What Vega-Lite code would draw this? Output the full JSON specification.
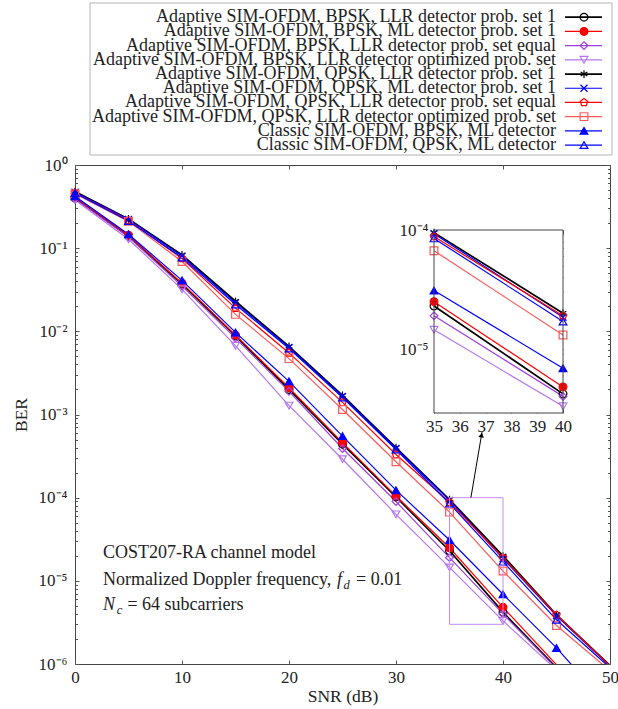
{
  "$schema": "https://vega.github.io/schema/vega-lite/v6.json",
  "autosize": {"type": "none"},
  "padding": {"left": 75, "top": 165, "right": 8, "bottom": 45},
  "width": 535,
  "height": 499,
  "background": "white",
  "config": {
    "view": {"stroke": "#444444", "strokeWidth": 1},
    "legend": {"disable": true},
    "font": "Liberation Serif",
    "text": {"font": "Liberation Serif", "fontSize": 18, "color": "#222222"},
    "axis": {
      "labelFont": "Liberation Serif",
      "titleFont": "Liberation Serif",
      "labelFontSize": 17,
      "titleFontSize": 17.5,
      "labelColor": "#222222",
      "titleColor": "#222222",
      "titleFontWeight": "normal",
      "grid": false,
      "domain": false,
      "tickColor": "#555555",
      "tickWidth": 1,
      "labelOverlap": false,
      "labelBound": false
    }
  },
  "datasets": {
    "series": [
      {"k": 1, "name": "Adaptive SIM-OFDM, BPSK, LLR detector prob. set 1"},
      {"k": 2, "name": "Adaptive SIM-OFDM, BPSK, ML detector prob. set 1"},
      {"k": 3, "name": "Adaptive SIM-OFDM, BPSK, LLR detector prob. set equal"},
      {"k": 4, "name": "Adaptive SIM-OFDM, BPSK, LLR detector optimized prob. set"},
      {"k": 5, "name": "Adaptive SIM-OFDM, QPSK, LLR detector prob. set 1"},
      {"k": 6, "name": "Adaptive SIM-OFDM, QPSK, ML detector prob. set 1"},
      {"k": 7, "name": "Adaptive SIM-OFDM, QPSK, LLR detector prob. set equal"},
      {"k": 8, "name": "Adaptive SIM-OFDM, QPSK, LLR detector optimized prob. set"},
      {"k": 9, "name": "Classic SIM-OFDM, BPSK, ML detector"},
      {"k": 10, "name": "Classic SIM-OFDM, QPSK, ML detector"}
    ],
    "ber": [
      {"k":1,"snr":0,"ber":0.40},{"k":1,"snr":5,"ber":0.140},{"k":1,"snr":10,"ber":0.037},{"k":1,"snr":15,"ber":0.0088},{"k":1,"snr":20,"ber":0.0020},{"k":1,"snr":25,"ber":4.4e-4},{"k":1,"snr":30,"ber":1.02e-4},{"k":1,"snr":35,"ber":2.3e-5},{"k":1,"snr":40,"ber":4.2e-6},{"k":1,"snr":45,"ber":9.0e-7},{"k":1,"snr":50,"ber":2.0e-7},
      {"k":2,"snr":0,"ber":0.41},{"k":2,"snr":5,"ber":0.143},{"k":2,"snr":10,"ber":0.038},{"k":2,"snr":15,"ber":0.0090},{"k":2,"snr":20,"ber":0.0021},{"k":2,"snr":25,"ber":4.6e-4},{"k":2,"snr":30,"ber":1.05e-4},{"k":2,"snr":35,"ber":2.5e-5},{"k":2,"snr":40,"ber":4.8e-6},{"k":2,"snr":45,"ber":9.8e-7},{"k":2,"snr":50,"ber":2.2e-7},
      {"k":3,"snr":0,"ber":0.39},{"k":3,"snr":5,"ber":0.136},{"k":3,"snr":10,"ber":0.035},{"k":3,"snr":15,"ber":0.0083},{"k":3,"snr":20,"ber":0.0019},{"k":3,"snr":25,"ber":3.9e-4},{"k":3,"snr":30,"ber":9.0e-5},{"k":3,"snr":35,"ber":1.9e-5},{"k":3,"snr":40,"ber":4.0e-6},{"k":3,"snr":45,"ber":8.8e-7},{"k":3,"snr":50,"ber":1.8e-7},
      {"k":4,"snr":0,"ber":0.38},{"k":4,"snr":5,"ber":0.128},{"k":4,"snr":10,"ber":0.032},{"k":4,"snr":15,"ber":0.0067},{"k":4,"snr":20,"ber":0.00128},{"k":4,"snr":25,"ber":2.9e-4},{"k":4,"snr":30,"ber":6.3e-5},{"k":4,"snr":35,"ber":1.45e-5},{"k":4,"snr":40,"ber":3.3e-6},{"k":4,"snr":45,"ber":8.5e-7},{"k":4,"snr":50,"ber":1.6e-7},
      {"k":5,"snr":0,"ber":0.48},{"k":5,"snr":5,"ber":0.225},{"k":5,"snr":10,"ber":0.083},{"k":5,"snr":15,"ber":0.023},{"k":5,"snr":20,"ber":0.0066},{"k":5,"snr":25,"ber":0.0017},{"k":5,"snr":30,"ber":4.0e-4},{"k":5,"snr":35,"ber":9.5e-5},{"k":5,"snr":40,"ber":2.0e-5},{"k":5,"snr":45,"ber":3.9e-6},{"k":5,"snr":50,"ber":9.6e-7},
      {"k":6,"snr":0,"ber":0.47},{"k":6,"snr":5,"ber":0.222},{"k":6,"snr":10,"ber":0.080},{"k":6,"snr":15,"ber":0.022},{"k":6,"snr":20,"ber":0.0064},{"k":6,"snr":25,"ber":0.00165},{"k":6,"snr":30,"ber":3.9e-4},{"k":6,"snr":35,"ber":9.3e-5},{"k":6,"snr":40,"ber":1.85e-5},{"k":6,"snr":45,"ber":3.8e-6},{"k":6,"snr":50,"ber":9.4e-7},
      {"k":7,"snr":0,"ber":0.46},{"k":7,"snr":5,"ber":0.216},{"k":7,"snr":10,"ber":0.075},{"k":7,"snr":15,"ber":0.019},{"k":7,"snr":20,"ber":0.0055},{"k":7,"snr":25,"ber":0.0014},{"k":7,"snr":30,"ber":3.3e-4},{"k":7,"snr":35,"ber":8.8e-5},{"k":7,"snr":40,"ber":1.9e-5},{"k":7,"snr":45,"ber":3.9e-6},{"k":7,"snr":50,"ber":9.5e-7},
      {"k":8,"snr":0,"ber":0.45},{"k":8,"snr":5,"ber":0.21},{"k":8,"snr":10,"ber":0.069},{"k":8,"snr":15,"ber":0.016},{"k":8,"snr":20,"ber":0.0047},{"k":8,"snr":25,"ber":0.00115},{"k":8,"snr":30,"ber":2.7e-4},{"k":8,"snr":35,"ber":6.7e-5},{"k":8,"snr":40,"ber":1.31e-5},{"k":8,"snr":45,"ber":2.9e-6},{"k":8,"snr":50,"ber":8.3e-7},
      {"k":9,"snr":0,"ber":0.42},{"k":9,"snr":5,"ber":0.147},{"k":9,"snr":10,"ber":0.041},{"k":9,"snr":15,"ber":0.0097},{"k":9,"snr":20,"ber":0.0025},{"k":9,"snr":25,"ber":5.5e-4},{"k":9,"snr":30,"ber":1.23e-4},{"k":9,"snr":35,"ber":3.1e-5},{"k":9,"snr":40,"ber":6.9e-6},{"k":9,"snr":45,"ber":1.56e-6},{"k":9,"snr":50,"ber":3.0e-7},
      {"k":10,"snr":0,"ber":0.46},{"k":10,"snr":5,"ber":0.212},{"k":10,"snr":10,"ber":0.077},{"k":10,"snr":15,"ber":0.021},{"k":10,"snr":20,"ber":0.0062},{"k":10,"snr":25,"ber":0.0016},{"k":10,"snr":30,"ber":3.8e-4},{"k":10,"snr":35,"ber":8.5e-5},{"k":10,"snr":40,"ber":1.7e-5},{"k":10,"snr":45,"ber":3.4e-6},{"k":10,"snr":50,"ber":9.0e-7}
    ]
  },
  "layer": [
    {
      "layer": [
        {
          "data": {"name": "ber"},
          "transform": [{"filter": "datum.k == 1 || datum.k == 5"}],
          "mark": {"type": "line", "clip": true, "strokeWidth": 1.7},
          "encoding": {
            "x": {"field": "snr", "type": "quantitative", "scale": {"domain": [0, 50], "nice": false, "zero": false},
                  "axis": {"orient": "bottom", "values": [0, 10, 20, 30, 40, 50], "ticks": false, "labelPadding": 5, "labelFlush": false, "title": "SNR (dB)", "titlePadding": 2}},
            "y": {"field": "ber", "type": "quantitative", "scale": {"type": "log", "domain": [1e-6, 1], "nice": false},
                  "axis": {"orient": "left", "values": [1e-6, 1e-5, 1e-4, 1e-3, 1e-2, 1e-1, 1], "ticks": false, "labelPadding": 8,
                           "labelExpr": "datum.value >= 0.99 ? '10⁰' : '10⁻' + ['','¹','²','³','⁴','⁵','⁶'][round(-log(datum.value)/LN10)]",
                           "title": "BER", "titlePadding": 8}},
            "stroke": {"field": "k", "type": "nominal", "scale": {"domain": [1,2,3,4,5,6,7,8,9,10], "range": ["#000000","#ff0000","#9e3fe0","#b676f2","#000000","#0000ff","#ff0000","#ff5a5a","#0000ff","#0000ff"]}, "legend": null}
          }
        },
        {
          "data": {"name": "ber"},
          "transform": [{"filter": "datum.k != 1 && datum.k != 5"}],
          "mark": {"type": "line", "clip": true, "strokeWidth": 1.2},
          "encoding": {
            "x": {"field": "snr", "type": "quantitative", "axis": {"orient": "bottom", "values": [0, 10, 20, 30, 40, 50], "labels": false, "ticks": true, "tickSize": -4, "title": null}},
            "y": {"field": "ber", "type": "quantitative", "axis": {"orient": "left", "values": [1e-6, 1e-5, 1e-4, 1e-3, 1e-2, 1e-1, 1], "labels": false, "ticks": true, "tickSize": -4, "title": null}},
            "stroke": {"field": "k", "type": "nominal", "scale": {"domain": [1,2,3,4,5,6,7,8,9,10], "range": ["#000000","#ff0000","#9e3fe0","#b676f2","#000000","#0000ff","#ff0000","#ff5a5a","#0000ff","#0000ff"]}, "legend": null}
          }
        },
        {
          "data": {"name": "ber"},
          "transform": [{"filter": "datum.ber >= 1e-6"}],
          "mark": {"type": "point", "filled": true, "opacity": 1, "size": 60, "strokeWidth": 1.2},
          "encoding": {
            "x": {"field": "snr", "type": "quantitative", "axis": {"orient": "top", "values": [0, 10, 20, 30, 40, 50], "labels": false, "ticks": true, "tickSize": -4, "title": null}},
            "y": {"field": "ber", "type": "quantitative", "axis": {"orient": "right", "values": [1e-6, 1e-5, 1e-4, 1e-3, 1e-2, 1e-1, 1], "labels": false, "ticks": true, "tickSize": -4, "title": null}},
            "shape": {"field": "k", "type": "nominal", "scale": {"domain": [1,2,3,4,5,6,7,8,9,10], "range": ["circle","circle","diamond","triangle-down","M0,-1L0,1M-0.866,-0.5L0.866,0.5M-0.866,0.5L0.866,-0.5","M-0.9,-0.9L0.9,0.9M-0.9,0.9L0.9,-0.9","M0,-1L0.951,-0.309L0.588,0.809L-0.588,0.809L-0.951,-0.309Z","square","triangle-up","triangle-up"]}, "legend": null},
            "fill": {"field": "k", "type": "nominal", "scale": {"domain": [1,2,3,4,5,6,7,8,9,10], "range": ["transparent","#ff0000","transparent","transparent","transparent","transparent","transparent","transparent","#0000ff","transparent"]}, "legend": null},
            "stroke": {"field": "k", "type": "nominal", "scale": {"domain": [1,2,3,4,5,6,7,8,9,10], "range": ["#000000","#ff0000","#9e3fe0","#b676f2","#000000","#0000ff","#ff0000","#ff5a5a","#0000ff","#0000ff"]}, "legend": null}
          }
        },
        {
          "data": {"values": [{"x1": 35, "x2": 40, "y1": 3e-6, "y2": 1e-4}]},
          "mark": {"type": "rect", "fill": "transparent", "stroke": "#c58ef0", "strokeWidth": 1},
          "encoding": {
            "x": {"field": "x1", "type": "quantitative", "axis": null},
            "x2": {"field": "x2"},
            "y": {"field": "y1", "type": "quantitative", "axis": {"orient": "left", "values": [2e-6,3e-6,4e-6,5e-6,6e-6,7e-6,8e-6,9e-6,2e-5,3e-5,4e-5,5e-5,6e-5,7e-5,8e-5,9e-5,2e-4,3e-4,4e-4,5e-4,6e-4,7e-4,8e-4,9e-4,2e-3,3e-3,4e-3,5e-3,6e-3,7e-3,8e-3,9e-3,0.02,0.03,0.04,0.05,0.06,0.07,0.08,0.09,0.2,0.3,0.4,0.5,0.6,0.7,0.8,0.9], "labels": false, "ticks": true, "tickSize": -2.5, "title": null}},
            "y2": {"field": "y2"}
          }
        },
        {
          "data": {"values": [{"x": 37.0, "y": 1.0e-4}, {"x": 38.04, "y": 6.16e-4}]},
          "mark": {"type": "line", "stroke": "#000000", "strokeWidth": 1},
          "encoding": {
            "x": {"field": "x", "type": "quantitative", "axis": null},
            "y": {"field": "y", "type": "quantitative", "axis": {"orient": "right", "values": [2e-6,3e-6,4e-6,5e-6,6e-6,7e-6,8e-6,9e-6,2e-5,3e-5,4e-5,5e-5,6e-5,7e-5,8e-5,9e-5,2e-4,3e-4,4e-4,5e-4,6e-4,7e-4,8e-4,9e-4,2e-3,3e-3,4e-3,5e-3,6e-3,7e-3,8e-3,9e-3,0.02,0.03,0.04,0.05,0.06,0.07,0.08,0.09,0.2,0.3,0.4,0.5,0.6,0.7,0.8,0.9], "labels": false, "ticks": true, "tickSize": -2.5, "title": null}}
          }
        },
        {
          "data": {"values": [{"x": 37.99, "y": 5.67e-4}]},
          "mark": {"type": "point", "shape": "triangle-up", "filled": true, "fill": "#000000", "stroke": null, "opacity": 1, "size": 30, "angle": 9.6},
          "encoding": {
            "x": {"field": "x", "type": "quantitative", "axis": null},
            "y": {"field": "y", "type": "quantitative", "axis": null}
          }
        },
        {
          "data": {"values": [
            {"t": "COST207-RA channel model", "x": 2.62, "y": 1.88e-5},
            {"t": "Normalized Doppler frequency,", "x": 2.62, "y": 8.9e-6},
            {"t": "= 0.01", "x": 26.26, "y": 8.9e-6},
            {"t": "= 64 subcarriers", "x": 4.9, "y": 4.46e-6}
          ]},
          "mark": {"type": "text", "align": "left", "baseline": "alphabetic", "fontSize": 18},
          "encoding": {
            "x": {"field": "x", "type": "quantitative", "axis": null},
            "y": {"field": "y", "type": "quantitative", "axis": null},
            "text": {"field": "t"}
          }
        },
        {
          "data": {"values": [
            {"t": "f", "x": 24.49, "y": 8.9e-6},
            {"t": "N", "x": 2.62, "y": 4.46e-6}
          ]},
          "mark": {"type": "text", "align": "left", "baseline": "alphabetic", "fontSize": 18, "fontStyle": "italic"},
          "encoding": {
            "x": {"field": "x", "type": "quantitative", "axis": null},
            "y": {"field": "y", "type": "quantitative", "axis": null},
            "text": {"field": "t"}
          }
        },
        {
          "data": {"values": [
            {"t": "d", "x": 25.1, "y": 7.98e-6},
            {"t": "c", "x": 3.9, "y": 3.99e-6}
          ]},
          "mark": {"type": "text", "align": "left", "baseline": "alphabetic", "fontSize": 12.5, "fontStyle": "italic"},
          "encoding": {
            "x": {"field": "x", "type": "quantitative", "axis": null},
            "y": {"field": "y", "type": "quantitative", "axis": null},
            "text": {"field": "t"}
          }
        }
      ],
      "resolve": {"axis": {"x": "independent", "y": "independent"}}
    },
    {
      "layer": [
        {
          "data": {"values": [{"a": 35, "b": 40, "c": 2.9e-6, "d": 1e-4}]},
          "mark": {"type": "rect", "fill": "white", "stroke": null},
          "encoding": {
            "x": {"field": "a", "type": "quantitative", "scale": {"domain": [35, 40], "range": [359, 488], "nice": false, "zero": false},
                  "axis": {"orient": "top", "offset": -65, "values": [35, 36, 37, 38, 39, 40], "labels": false, "ticks": true, "tickSize": -4, "title": null}},
            "x2": {"field": "b"},
            "y": {"field": "c", "type": "quantitative", "scale": {"type": "log", "domain": [2.9e-6, 1e-4], "range": [248, 65], "nice": false},
                  "axis": {"orient": "right", "offset": -47, "values": [1e-5, 1e-4], "labels": false, "ticks": true, "tickSize": -4, "title": null}},
            "y2": {"field": "d"}
          }
        },
        {
          "data": {"name": "ber"},
          "transform": [{"filter": "datum.snr >= 35 && datum.snr <= 40 && (datum.k == 1 || datum.k == 5)"}],
          "mark": {"type": "line", "strokeWidth": 1.7},
          "encoding": {
            "x": {"field": "snr", "type": "quantitative",
                  "axis": {"orient": "bottom", "offset": -251, "values": [35, 36, 37, 38, 39, 40], "ticks": false, "labelPadding": 5, "labelFlush": false, "title": null}},
            "y": {"field": "ber", "type": "quantitative",
                  "axis": {"orient": "left", "offset": -359, "values": [1e-5, 1e-4], "ticks": false, "labelPadding": 6,
                           "labelExpr": "'10⁻' + ['','¹','²','³','⁴','⁵','⁶'][round(-log(datum.value)/LN10)]", "title": null}},
            "stroke": {"field": "k", "type": "nominal", "scale": {"domain": [1,2,3,4,5,6,7,8,9,10], "range": ["#000000","#ff0000","#9e3fe0","#b676f2","#000000","#0000ff","#ff0000","#ff5a5a","#0000ff","#0000ff"]}, "legend": null}
          }
        },
        {
          "data": {"name": "ber"},
          "transform": [{"filter": "datum.snr >= 35 && datum.snr <= 40 && datum.k != 1 && datum.k != 5"}],
          "mark": {"type": "line", "strokeWidth": 1.2},
          "encoding": {
            "x": {"field": "snr", "type": "quantitative",
                  "axis": {"orient": "bottom", "offset": -251, "values": [35, 36, 37, 38, 39, 40], "labels": false, "ticks": true, "tickSize": -4, "title": null}},
            "y": {"field": "ber", "type": "quantitative",
                  "axis": {"orient": "left", "offset": -359, "values": [1e-5, 1e-4], "labels": false, "ticks": true, "tickSize": -4, "title": null}},
            "stroke": {"field": "k", "type": "nominal", "scale": {"domain": [1,2,3,4,5,6,7,8,9,10], "range": ["#000000","#ff0000","#9e3fe0","#b676f2","#000000","#0000ff","#ff0000","#ff5a5a","#0000ff","#0000ff"]}, "legend": null}
          }
        },
        {
          "data": {"name": "ber"},
          "transform": [{"filter": "datum.snr >= 35 && datum.snr <= 40"}],
          "mark": {"type": "point", "filled": true, "opacity": 1, "size": 60, "strokeWidth": 1.2},
          "encoding": {
            "x": {"field": "snr", "type": "quantitative", "axis": null},
            "y": {"field": "ber", "type": "quantitative",
                  "axis": {"orient": "left", "offset": -359, "values": [3e-6,4e-6,5e-6,6e-6,7e-6,8e-6,9e-6,2e-5,3e-5,4e-5,5e-5,6e-5,7e-5,8e-5,9e-5], "labels": false, "ticks": true, "tickSize": -2.5, "title": null}},
            "shape": {"field": "k", "type": "nominal", "scale": {"domain": [1,2,3,4,5,6,7,8,9,10], "range": ["circle","circle","diamond","triangle-down","M0,-1L0,1M-0.866,-0.5L0.866,0.5M-0.866,0.5L0.866,-0.5","M-0.9,-0.9L0.9,0.9M-0.9,0.9L0.9,-0.9","M0,-1L0.951,-0.309L0.588,0.809L-0.588,0.809L-0.951,-0.309Z","square","triangle-up","triangle-up"]}, "legend": null},
            "fill": {"field": "k", "type": "nominal", "scale": {"domain": [1,2,3,4,5,6,7,8,9,10], "range": ["transparent","#ff0000","transparent","transparent","transparent","transparent","transparent","transparent","#0000ff","transparent"]}, "legend": null},
            "stroke": {"field": "k", "type": "nominal", "scale": {"domain": [1,2,3,4,5,6,7,8,9,10], "range": ["#000000","#ff0000","#9e3fe0","#b676f2","#000000","#0000ff","#ff0000","#ff5a5a","#0000ff","#0000ff"]}, "legend": null}
          }
        },
        {
          "data": {"values": [{"a": 35, "b": 40, "c": 2.9e-6, "d": 1e-4}]},
          "mark": {"type": "rect", "fill": "transparent", "stroke": "#444444", "strokeWidth": 1},
          "encoding": {
            "x": {"field": "a", "type": "quantitative", "axis": null},
            "x2": {"field": "b"},
            "y": {"field": "c", "type": "quantitative",
                  "axis": {"orient": "right", "offset": -47, "values": [3e-6,4e-6,5e-6,6e-6,7e-6,8e-6,9e-6,2e-5,3e-5,4e-5,5e-5,6e-5,7e-5,8e-5,9e-5], "labels": false, "ticks": true, "tickSize": -2.5, "title": null}},
            "y2": {"field": "d"}
          }
        }
      ],
      "resolve": {"axis": {"x": "independent", "y": "independent"}}
    },
    {
      "layer": [
        {
          "data": {"values": [{}]},
          "mark": {"type": "rect", "fill": "white", "stroke": "#b4b4b4", "strokeWidth": 1},
          "encoding": {
            "x": {"datum": 0, "type": "quantitative", "scale": {"domain": [0, 522], "range": [15, 537], "nice": false, "zero": false}, "axis": null},
            "x2": {"datum": 522},
            "y": {"datum": 0, "type": "quantitative", "scale": {"domain": [0, 10.7], "range": [-162, -10], "nice": false, "zero": false}, "axis": null},
            "y2": {"datum": 10.7}
          }
        },
        {
          "data": {"name": "series"},
          "transform": [{"filter": "datum.k == 1 || datum.k == 5"}],
          "mark": {"type": "rule", "strokeWidth": 1.7},
          "encoding": {
            "x": {"datum": 475, "type": "quantitative", "axis": null},
            "x2": {"datum": 512},
            "y": {"field": "k", "type": "quantitative", "axis": null},
            "stroke": {"field": "k", "type": "nominal", "scale": {"domain": [1,2,3,4,5,6,7,8,9,10], "range": ["#000000","#ff0000","#9e3fe0","#b676f2","#000000","#0000ff","#ff0000","#ff5a5a","#0000ff","#0000ff"]}, "legend": null}
          }
        },
        {
          "data": {"name": "series"},
          "transform": [{"filter": "datum.k != 1 && datum.k != 5"}],
          "mark": {"type": "rule", "strokeWidth": 1.2},
          "encoding": {
            "x": {"datum": 475, "type": "quantitative", "axis": null},
            "x2": {"datum": 512},
            "y": {"field": "k", "type": "quantitative", "axis": null},
            "stroke": {"field": "k", "type": "nominal", "scale": {"domain": [1,2,3,4,5,6,7,8,9,10], "range": ["#000000","#ff0000","#9e3fe0","#b676f2","#000000","#0000ff","#ff0000","#ff5a5a","#0000ff","#0000ff"]}, "legend": null}
          }
        },
        {
          "data": {"name": "series"},
          "mark": {"type": "point", "filled": true, "opacity": 1, "size": 60, "strokeWidth": 1.2},
          "encoding": {
            "x": {"datum": 494, "type": "quantitative", "axis": null},
            "y": {"field": "k", "type": "quantitative", "axis": null},
            "shape": {"field": "k", "type": "nominal", "scale": {"domain": [1,2,3,4,5,6,7,8,9,10], "range": ["circle","circle","diamond","triangle-down","M0,-1L0,1M-0.866,-0.5L0.866,0.5M-0.866,0.5L0.866,-0.5","M-0.9,-0.9L0.9,0.9M-0.9,0.9L0.9,-0.9","M0,-1L0.951,-0.309L0.588,0.809L-0.588,0.809L-0.951,-0.309Z","square","triangle-up","triangle-up"]}, "legend": null},
            "fill": {"field": "k", "type": "nominal", "scale": {"domain": [1,2,3,4,5,6,7,8,9,10], "range": ["transparent","#ff0000","transparent","transparent","transparent","transparent","transparent","transparent","#0000ff","transparent"]}, "legend": null},
            "stroke": {"field": "k", "type": "nominal", "scale": {"domain": [1,2,3,4,5,6,7,8,9,10], "range": ["#000000","#ff0000","#9e3fe0","#b676f2","#000000","#0000ff","#ff0000","#ff5a5a","#0000ff","#0000ff"]}, "legend": null}
          }
        },
        {
          "data": {"name": "series"},
          "mark": {"type": "text", "align": "right", "baseline": "middle", "fontSize": 18},
          "encoding": {
            "x": {"datum": 466, "type": "quantitative", "axis": null},
            "y": {"field": "k", "type": "quantitative", "axis": null},
            "text": {"field": "name"}
          }
        }
      ]
    }
  ],
  "resolve": {"scale": {"x": "independent", "y": "independent"}}
}
